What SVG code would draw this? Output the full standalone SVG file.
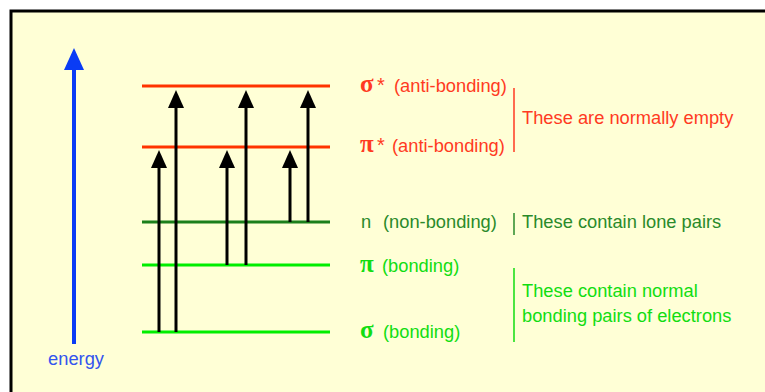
<svg xmlns="http://www.w3.org/2000/svg" width="765" height="392" viewBox="0 0 765 392">
<defs>
<marker id="ah" markerUnits="userSpaceOnUse" markerWidth="18" markerHeight="16" refX="8" refY="8" orient="auto" overflow="visible">
<path d="M0,0 L18,8 L0,16 z" fill="#000"/>
</marker>
<marker id="ahb" markerUnits="userSpaceOnUse" markerWidth="22" markerHeight="20" refX="10" refY="10" orient="auto" overflow="visible">
<path d="M0,0 L22,10 L0,20 z" fill="#0a3cf5"/>
</marker>
</defs>
<style>
text{font-family:"Liberation Sans",Arial,sans-serif;font-size:18.3px}
.sym{font-family:"Liberation Serif","DejaVu Serif",serif;font-weight:bold;font-size:25px}
.red{fill:#ff3a22}
.dg{fill:#2a8a2a}
.lg{fill:#11dd11}
.lvl{stroke-width:3}
.tr{stroke:#000;stroke-width:3;fill:none;marker-end:url(#ah)}
</style>
<rect x="0" y="0" width="765" height="392" fill="#ffffff"/>
<rect x="11" y="11" width="770" height="400" fill="#ffffd6" stroke="#000" stroke-width="3"/>
<g id="energy-axis">
<line x1="74" y1="344" x2="74" y2="60" stroke="#0a3cf5" stroke-width="4" marker-end="url(#ahb)"/>
<text x="76" y="365" text-anchor="middle" fill="#3355ee">energy</text>
</g>
<g id="level-sigma-star">
<line class="lvl" x1="142" y1="86" x2="330" y2="86" stroke="#ff3300"/>
<text x="360" y="92" class="red"><tspan class="sym">σ</tspan><tspan x="377" font-size="20px">*</tspan><tspan x="394">(anti-bonding)</tspan></text>
</g>
<g id="level-pi-star">
<line class="lvl" x1="142" y1="147" x2="330" y2="147" stroke="#ff3300"/>
<text x="360" y="152" class="red"><tspan class="sym">π</tspan><tspan x="377" font-size="20px">*</tspan><tspan x="392">(anti-bonding)</tspan></text>
</g>
<g id="level-n">
<line class="lvl" x1="142" y1="222" x2="330" y2="222" stroke="#1b7f1b"/>
<text x="361" y="228" class="dg">n<tspan x="383">(non-bonding)</tspan></text>
</g>
<g id="level-pi">
<line class="lvl" x1="142" y1="265" x2="330" y2="265" stroke="#00ee00"/>
<text x="360" y="272" class="lg"><tspan class="sym">π</tspan><tspan x="382">(bonding)</tspan></text>
</g>
<g id="level-sigma">
<line class="lvl" x1="142" y1="332" x2="330" y2="332" stroke="#00ee00"/>
<text x="360" y="338" class="lg"><tspan class="sym">σ</tspan><tspan x="383">(bonding)</tspan></text>
</g>
<g id="note-empty">
<line x1="514" y1="88" x2="514" y2="152" stroke="#ff3a22" stroke-width="1.5"/>
<text x="522" y="124" class="red">These are normally empty</text>
</g>
<g id="note-lone">
<line x1="514" y1="213" x2="514" y2="235" stroke="#2a8a2a" stroke-width="1.5"/>
<text x="522" y="228" class="dg">These contain lone pairs</text>
</g>
<g id="note-bonding">
<line x1="514" y1="268" x2="514" y2="342" stroke="#11dd11" stroke-width="1.5"/>
<text x="522" y="297" class="lg">These contain normal</text>
<text x="522" y="322" class="lg">bonding pairs of electrons</text>
</g>
<g id="transitions">
<line class="tr" x1="159" y1="332" x2="159" y2="160"/>
<line class="tr" x1="176" y1="332" x2="176" y2="100"/>
<line class="tr" x1="227" y1="265" x2="227" y2="160"/>
<line class="tr" x1="246" y1="265" x2="246" y2="100"/>
<line class="tr" x1="290" y1="222" x2="290" y2="160"/>
<line class="tr" x1="308" y1="222" x2="308" y2="100"/>
</g>
</svg>
